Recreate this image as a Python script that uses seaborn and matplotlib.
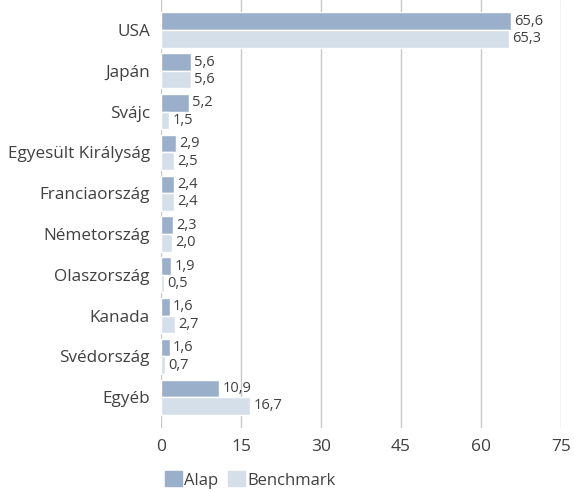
import pandas as pd
import matplotlib.pyplot as plt
import seaborn as sns

countries = ["USA", "Japán", "Svájc", "Egyesült Királyság", "Franciaország",
             "Németország", "Olaszország", "Kanada", "Svédország", "Egyéb"]
alap = [65.6, 5.6, 5.2, 2.9, 2.4, 2.3, 1.9, 1.6, 1.6, 10.9]
benchmark = [65.3, 5.6, 1.5, 2.5, 2.4, 2.0, 0.5, 2.7, 0.7, 16.7]
series = ["Alap", "Benchmark"]
x_ticks = [0, 15, 30, 45, 60, 75]

colors = {"Alap": "#9AB0CA", "Benchmark": "#D5DFEA"}
text_color = "#404040"

df = pd.DataFrame({
    "country": countries * 2,
    "value": alap + benchmark,
    "series": ["Alap"] * len(countries) + ["Benchmark"] * len(countries),
})

sns.set_theme(style="white")
plt.rcParams["font.family"] = ["Open Sans", "DejaVu Sans"]

fig = plt.figure(figsize=(5.74, 4.92), dpi=100)
ax = fig.add_axes([161 / 574, 1 - 428 / 492, 400 / 574, 428 / 492])

sns.barplot(data=df, y="country", x="value", hue="series", order=countries,
            hue_order=series, palette=colors, orient="h", width=0.86,
            saturation=1, ax=ax, legend=False)

# value labels
for cont in ax.containers:
    for bar in cont:
        w = bar.get_width()
        ax.text(w + 0.6, bar.get_y() + bar.get_height() / 2,
                f"{w:.1f}".replace(".", ","), va="center", ha="left",
                fontsize=10.5, color=text_color)

ax.set_xlim(0, 75)
ax.set_ylim(9.755, -0.735)
ax.set_xticks(x_ticks)
ax.set_xticklabels([str(t) for t in x_ticks], fontsize=12.5, color=text_color)
ax.tick_params(axis="x", length=0, pad=8)
ax.tick_params(axis="y", length=0, pad=8, labelsize=12.3, labelcolor=text_color)
ax.set_xlabel("")
ax.set_ylabel("")
for s in ax.spines.values():
    s.set_visible(False)
ax.grid(axis="x", color="#c8c8c8", linewidth=1)
ax.set_axisbelow(True)

handles = [plt.Rectangle((0, 0), 1, 1, color=colors[s]) for s in series]
fig.legend(handles, series, loc="center left", bbox_to_anchor=(150 / 574, 1 - 480 / 492),
           ncol=2, frameon=False, fontsize=12, handlelength=1.0, handleheight=1.0,
           handletextpad=0.15, columnspacing=0.6, labelcolor=text_color)

fig.savefig("out.png", dpi=100)
